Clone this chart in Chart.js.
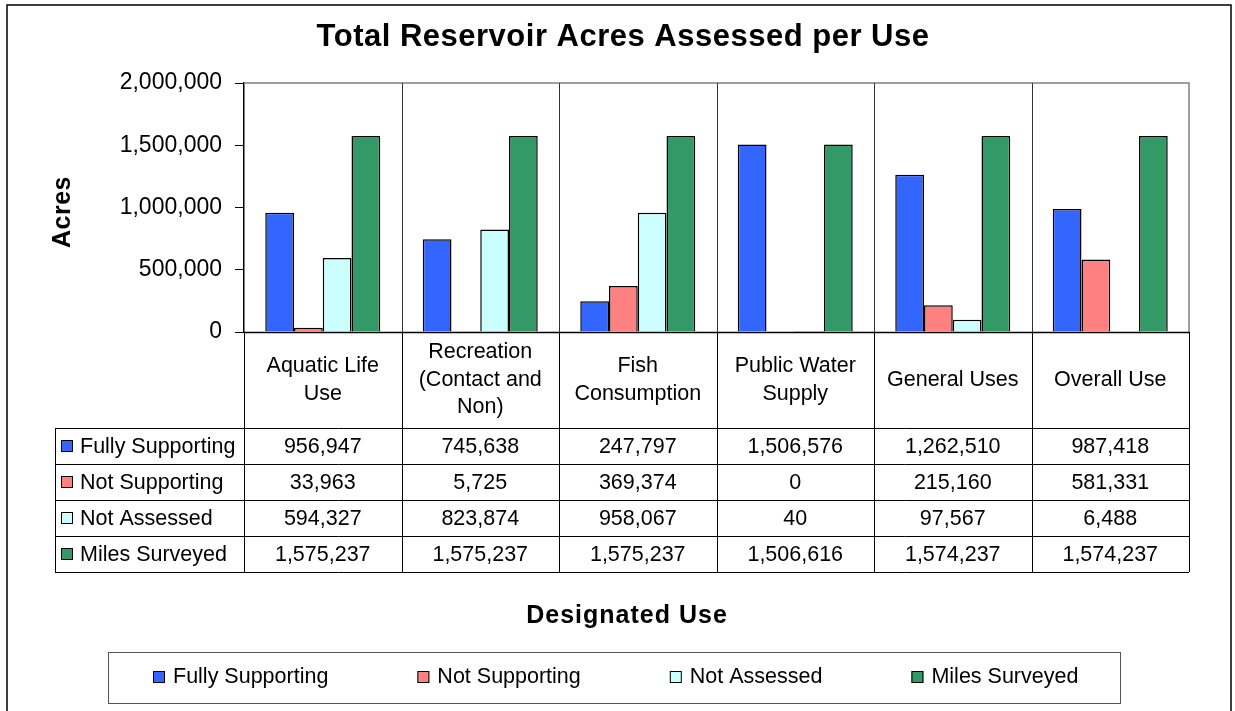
<!DOCTYPE html>
<html>
<head>
<meta charset="utf-8">
<script src="https://cdn.jsdelivr.net/npm/chart.js@4.4.1/dist/chart.umd.min.js"></script>
<style>
  html, body { margin: 0; padding: 0; background: #fff; }
  #wrap { width: 1235px; height: 711px; position: relative; }
</style>
</head>
<body>
<div id="wrap"><canvas id="chart"></canvas></div>
<script>
const FONT = 'Arial, "Liberation Sans", sans-serif';

const categories = [
    ['Aquatic Life', 'Use'],
    ['Recreation', '(Contact and', 'Non)'],
    ['Fish', 'Consumption'],
    ['Public Water', 'Supply'],
    ['General Uses'],
    ['Overall Use']
];
const seriesNames = ['Fully Supporting', 'Not Supporting', 'Not Assessed', 'Miles Surveyed'];
const fullySupporting = [956947, 745638, 247797, 1506576, 1262510, 987418];
const notSupporting = [33963, 5725, 369374, 0, 215160, 581331];
const notAssessed = [594327, 823874, 958067, 40, 97567, 6488];
const milesSurveyed = [1575237, 1575237, 1575237, 1506616, 1574237, 1574237];
const yTicks = [0, 500000, 1000000, 1500000, 2000000];

const colors = ['#3366ff', '#ff8080', '#ccffff', '#339966'];
const seriesData = [fullySupporting, notSupporting, notAssessed, milesSurveyed];

const fmt = v => v.toLocaleString('en-US');

// table, titles, legend and frame drawn around the bar area
const tablePlugin = {
    id: 'tablePlugin',
    beforeDatasetsDraw(chart) {
        const ctx = chart.ctx;
        const area = chart.chartArea;
        const x = chart.scales.x;
        const step = x.width / categories.length;
        ctx.save();
        // plot area border (gray)
        ctx.strokeStyle = '#808080';
        ctx.lineWidth = 1.5;
        ctx.beginPath();
        ctx.moveTo(area.left, area.top);
        ctx.lineTo(area.right, area.top);
        ctx.lineTo(area.right, area.bottom);
        ctx.stroke();
        // category separators inside plot
        ctx.strokeStyle = '#333';
        ctx.lineWidth = 1;
        for (let i = 1; i < categories.length; i++) {
            const bx = Math.round(area.left + i * step) + 0.5;
            ctx.beginPath();
            ctx.moveTo(bx, area.top);
            ctx.lineTo(bx, area.bottom);
            ctx.stroke();
        }
        ctx.restore();
    },
    afterDraw(chart) {
        const ctx = chart.ctx;
        const area = chart.chartArea;
        const x = chart.scales.x;
        const step = x.width / categories.length;
        const headerBottom = 428;
        const rowH = 36;
        const tableLeft = 55;
        const tableBottom = headerBottom + rowH * seriesNames.length;

        ctx.save();
        ctx.strokeStyle = '#000';
        ctx.lineWidth = 1;

        const hline = (y, x0, x1) => {
            ctx.beginPath();
            ctx.moveTo(x0, Math.round(y) + 0.5);
            ctx.lineTo(x1, Math.round(y) + 0.5);
            ctx.stroke();
        };
        const vline = (xx, y0, y1) => {
            ctx.beginPath();
            ctx.moveTo(Math.round(xx) + 0.5, y0);
            ctx.lineTo(Math.round(xx) + 0.5, y1);
            ctx.stroke();
        };
        ctx.lineWidth = 1.5;
        hline(area.bottom, area.left, area.right);
        ctx.lineWidth = 1;
        for (let r = 0; r <= seriesNames.length; r++) {
            hline(headerBottom + r * rowH, tableLeft, area.right);
        }
        vline(tableLeft, headerBottom, tableBottom);
        vline(area.left, area.bottom, tableBottom);
        for (let i = 1; i <= categories.length; i++) {
            vline(area.left + i * step, area.bottom, tableBottom);
        }

        // category labels
        ctx.fillStyle = '#000';
        ctx.font = '21.5px ' + FONT;
        ctx.textAlign = 'center';
        ctx.textBaseline = 'middle';
        const headMid = (area.bottom + headerBottom) / 2;
        categories.forEach((lines, i) => {
            const cx = x.getPixelForValue(i);
            const lh = 27.5;
            const y0 = headMid - (lines.length - 1) * lh / 2;
            lines.forEach((t, k) => ctx.fillText(t, cx, y0 + k * lh));
        });

        // table rows
        seriesNames.forEach((name, r) => {
            const cy = headerBottom + r * rowH + rowH / 2;
            ctx.fillStyle = colors[r];
            ctx.fillRect(61, cy - 6, 12, 12);
            ctx.strokeStyle = '#000';
            ctx.strokeRect(61.5, cy - 5.5, 11, 11);
            ctx.fillStyle = '#000';
            ctx.textAlign = 'left';
            ctx.fillText(name, 80, cy + 1);
            ctx.textAlign = 'center';
            seriesData[r].forEach((v, i) => {
                ctx.fillText(fmt(v), x.getPixelForValue(i), cy + 1);
            });
        });

        // chart title
        ctx.font = 'bold 31px ' + FONT;
        ctx.letterSpacing = '0.5px';
        ctx.fillText('Total Reservoir Acres Assessed per Use', 623, 37);

        // axis titles
        ctx.font = 'bold 25px ' + FONT;
        ctx.letterSpacing = '1px';
        ctx.fillText('Designated Use', 627, 616);
        ctx.save();
        ctx.translate(63, 212);
        ctx.rotate(-Math.PI / 2);
        ctx.letterSpacing = '0.5px';
        ctx.fillText('Acres', 0, 0);
        ctx.restore();
        ctx.letterSpacing = '0px';

        // legend box
        ctx.strokeStyle = '#555';
        ctx.lineWidth = 1;
        ctx.strokeRect(108.5, 652.5, 1012, 51);
        ctx.font = '21.5px ' + FONT;
        ctx.textAlign = 'left';
        let lx = 153;
        const ly = 677;
        seriesNames.forEach((name, r) => {
            ctx.fillStyle = colors[r];
            ctx.fillRect(lx, ly - 6, 12, 12);
            ctx.strokeStyle = '#000';
            ctx.strokeRect(lx + 0.5, ly - 5.5, 11, 11);
            ctx.fillStyle = '#000';
            ctx.fillText(name, lx + 20, ly);
            lx += 20 + ctx.measureText(name).width + 89;
        });

        // outer chart frame
        ctx.strokeStyle = '#000';
        ctx.lineWidth = 1.5;
        ctx.strokeRect(7, 5, 1224, 720);
        ctx.restore();
    }
};

new Chart(document.getElementById('chart'), {
    type: 'bar',
    data: {
        labels: categories.map(c => c.join(' ')),
        datasets: seriesNames.map((name, i) => ({
            label: name,
            data: seriesData[i],
            backgroundColor: colors[i],
            borderColor: '#000',
            borderWidth: 1.5,
            categoryPercentage: 0.73,
            barPercentage: 1.0
        }))
    },
    options: {
        responsive: true,
        maintainAspectRatio: false,
        animation: false,
        layout: { padding: { top: 83, left: 8, right: 46, bottom: 379 } },
        plugins: {
            legend: { display: false },
            title: { display: false },
            tooltip: { enabled: false }
        },
        scales: {
            x: { display: false },
            y: {
                min: yTicks[0],
                max: yTicks[yTicks.length - 1],
                afterFit: scale => { scale.width = 236; },
                afterBuildTicks: scale => { scale.ticks = yTicks.map(v => ({ value: v })); },
                border: { color: '#000', width: 1.5 },
                grid: { drawOnChartArea: false, drawTicks: true, tickLength: 9, color: '#000' },
                ticks: {
                    color: '#000',
                    padding: 13,
                    font: { family: FONT, size: 23 },
                    callback: v => fmt(v)
                }
            }
        }
    },
    plugins: [tablePlugin]
});
</script>
</body>
</html>
